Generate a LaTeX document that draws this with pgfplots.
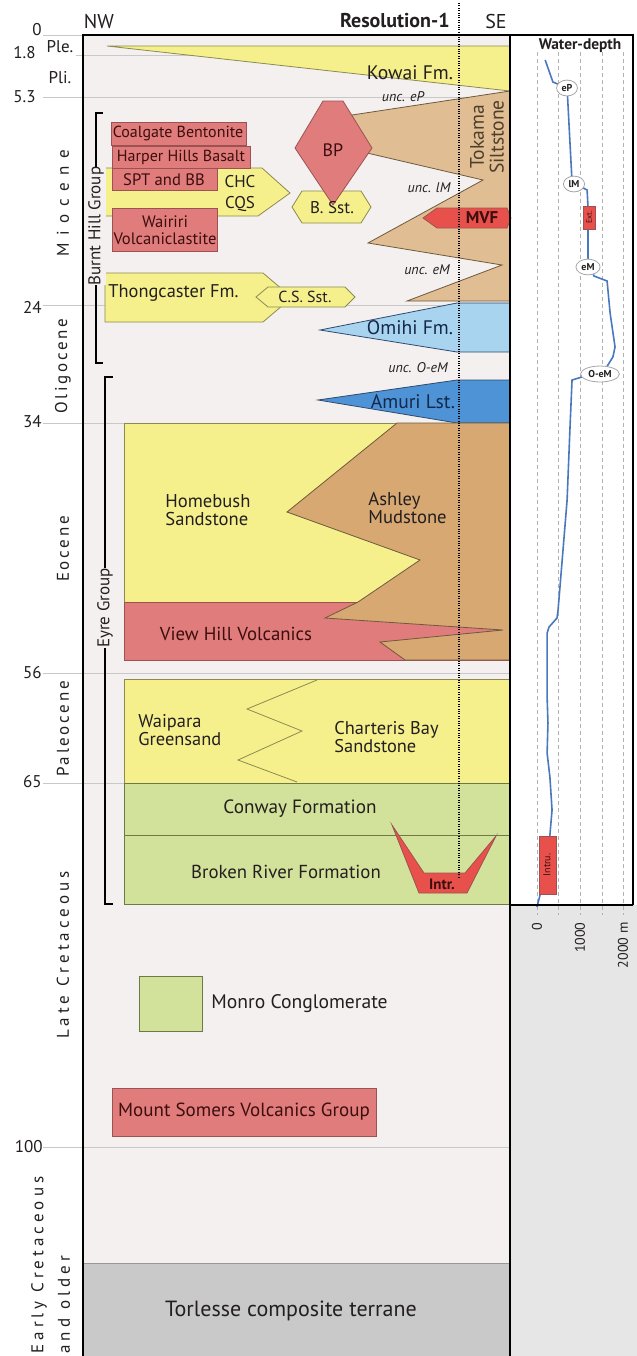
\documentclass[border=0pt]{standalone}
\usepackage{pgfplots}
\usepackage{pgfplotstable}
\pgfplotsset{compat=1.18}
\usetikzlibrary{shapes.geometric}
\usepackage{fontspec}
\setmainfont{PT Sans}
\newfontfamily\epochfont[LetterSpace=16]{PT Sans}
\newfontfamily\epochwide[LetterSpace=45]{PT Sans}
\newfontfamily\epochmid[LetterSpace=24]{PT Sans}

\definecolor{bgpanel}{HTML}{F3F0EF}
\definecolor{ylw}{HTML}{F6F08C}
\definecolor{ylwE}{HTML}{8C8A50}
\definecolor{volc}{HTML}{E07C7C}
\definecolor{volcE}{HTML}{9C5252}
\definecolor{hot}{HTML}{E8514B}
\definecolor{tanA}{HTML}{E0BD93}
\definecolor{tanB}{HTML}{D7A872}
\definecolor{tanE}{HTML}{6E5A3C}
\definecolor{omihi}{HTML}{A8D4F0}
\definecolor{amuri}{HTML}{4D93D5}
\definecolor{blueE}{HTML}{2E4A70}
\definecolor{grn}{HTML}{D3E29A}
\definecolor{grnE}{HTML}{6C7A48}
\definecolor{torl}{HTML}{C9C9C9}
\definecolor{lowgrey}{HTML}{E6E6E6}
\definecolor{curve}{HTML}{4A78BE}
\definecolor{ageline}{HTML}{C8C8C8}
\definecolor{txt}{HTML}{231F20}
\definecolor{volctxt}{HTML}{3D0E0E}
\definecolor{bluetxt}{HTML}{14284B}

\newcommand{\fsz}[1]{\fontsize{#1}{#1}\selectfont}

% water depth (m) against row position down the column
\pgfplotstableread{
depth row
190 60
370 82
700 88
815 182
1165 190
1185 206
1185 229
1185 258
1325 276
1630 281
1700 313
1815 347
1765 357
1605 368
1465 374
1045 377
815 380
765 430
700 500
605 550
490 610
465 618
280 627
235 633
235 697
255 723
235 753
300 777
350 810
300 835
255 865
70 895
0 907
}\depthcurve

\begin{document}
\begin{tikzpicture}
\begin{axis}[at={(0,0)}, anchor=south west, x=0.5pt, y=0.5pt, scale only axis,
  xmin=0, xmax=637, ymin=0, ymax=1356, y dir=reverse, hide axis, clip=false]

% backgrounds
\addplot[fill=white, draw=none] coordinates {(0,0)(637,0)(637,1356)(0,1356)} -- cycle;
\addplot[fill=bgpanel, draw=none] coordinates {(83,35)(510,35)(510,1356)(83,1356)} -- cycle;
\addplot[fill=white, draw=none] coordinates {(510,35)(633,35)(633,905)(510,905)} -- cycle;
\addplot[fill=lowgrey, draw=none] coordinates {(510,905)(637,905)(637,1356)(510,1356)} -- cycle;

% age lines
\addplot[ageline, line width=0.5pt] coordinates {(43,35)(83,35)};
\addplot[ageline, line width=0.5pt] coordinates {(76,55)(510,55)};
\addplot[ageline, line width=0.5pt] coordinates {(43,97)(510,97)};
\addplot[ageline, line width=0.5pt] coordinates {(43,305)(510,305)};
\addplot[ageline, line width=0.5pt] coordinates {(43,423)(510,423)};
\addplot[ageline, line width=0.5pt] coordinates {(43,673)(510,673)};
\addplot[ageline, line width=0.5pt] coordinates {(43,783)(510,783)};
\addplot[ageline, line width=0.5pt] coordinates {(43,1147)(510,1147)};

% Torlesse basement
\addplot[fill=torl, draw=gray!80, line width=0.5pt] coordinates {(83,1263)(510,1263)(510,1360)(83,1360)} -- cycle;

% water-depth grid
\addplot[gray!60, line width=0.4pt, dash pattern=on 2pt off 1.5pt] coordinates {(537,52)(537,915)};
\addplot[gray!60, line width=0.4pt, dash pattern=on 2pt off 1.5pt] coordinates {(558,52)(558,915)};
\addplot[gray!60, line width=0.4pt, dash pattern=on 2pt off 1.5pt] coordinates {(580,52)(580,915)};
\addplot[gray!60, line width=0.4pt, dash pattern=on 2pt off 1.5pt] coordinates {(602,52)(602,915)};
\addplot[gray!60, line width=0.4pt, dash pattern=on 2pt off 1.5pt] coordinates {(623,52)(623,915)};

% Kowai Fm.
\addplot[fill=ylw, draw=ylwE, line width=0.4pt] coordinates {(107,46)(510,46)(510,91)} -- cycle;
% Tokama Siltstone
\addplot[fill=tanA, draw=tanE, line width=0.4pt] coordinates {(510,91)(352,115)(333,150)(367,153)(483,180)(368,243)(502,265)(407,301)(510,301)} -- cycle;
% B. Sst.
\addplot[fill=ylw, draw=ylwE, line width=0.4pt] coordinates {(292,207)(302,191)(361,191)(371,207)(361,223)(302,223)} -- cycle;
% BP
\addplot[fill=volc, draw=volcE, line width=0.4pt] coordinates {(323,101)(343,101)(372,148)(333,205)(295,148)} -- cycle;
% CHC / CQS
\addplot[fill=ylw, draw=ylwE, line width=0.4pt] coordinates {(104,168)(262,168)(290,193)(258,216)(104,216)} -- cycle;
% Burnt Hill volcanics
\addplot[fill=volc, draw=volcE, line width=0.4pt] coordinates {(111,122)(246,122)(246,145)(111,145)} -- cycle;
\addplot[fill=volc, draw=volcE, line width=0.4pt] coordinates {(112,146)(250,146)(250,168)(112,168)} -- cycle;
\addplot[fill=volc, draw=volcE, line width=0.4pt] coordinates {(112,168)(217,168)(217,190)(112,190)} -- cycle;
\addplot[fill=volc, draw=volcE, line width=0.4pt] coordinates {(112,208)(217,208)(217,251)(112,251)} -- cycle;
% MVF
\addplot[fill=hot, draw=volcE, line width=0.4pt] coordinates {(423,218)(437,208)(507,208)(511,218)(507,228)(437,228)} -- cycle;
% Thongcaster Fm.
\addplot[fill=ylw, draw=ylwE, line width=0.4pt] coordinates {(105,273)(263,273)(283,290)(283,305)(263,322)(105,322)} -- cycle;
% C.S. Sst.
\addplot[fill=ylw, draw=ylwE, line width=0.4pt] coordinates {(256,297)(268,287)(345,287)(355,297)(345,307)(268,307)} -- cycle;
% Omihi Fm.
\addplot[fill=omihi, draw=blueE, line width=0.4pt] coordinates {(320,330)(457,303)(510,303)(510,352)(457,352)} -- cycle;
% Amuri Lst.
\addplot[fill=amuri, draw=blueE, line width=0.4pt] coordinates {(318,400)(457,380)(510,380)(510,423)(457,423)} -- cycle;

% Eocene
\addplot[fill=ylw, draw=ylwE, line width=0.4pt] coordinates {(124,423)(510,423)(510,602)(124,602)} -- cycle;
\addplot[fill=volc, draw=volcE, line width=0.4pt] coordinates {(124,602)(510,602)(510,660)(124,660)} -- cycle;
\addplot[fill=tanB, draw=tanE, line width=0.4pt] coordinates {(397,423)(510,423)(510,660)(405,660)(380,642)(503,630)(325,618)(358,602)(420,560)(287,512)} -- cycle;

% Paleocene
\addplot[fill=ylw, draw=ylwE, line width=0.4pt] coordinates {(124,679)(510,679)(510,783)(124,783)} -- cycle;
\addplot[ylwE, line width=0.4pt] coordinates {(317,680)(247,709)(302,731)(238,760)(297,782)};
% Conway and Broken River
\addplot[fill=grn, draw=grnE, line width=0.4pt] coordinates {(124,783)(510,783)(510,835)(124,835)} -- cycle;
\addplot[fill=grn, draw=grnE, line width=0.4pt] coordinates {(124,835)(510,835)(510,904)(124,904)} -- cycle;
% intrusion
\addplot[fill=hot, draw=volcE, line width=0.4pt] coordinates {(392,825)(419,893)(467,893)(496,836)(465,873)(424,873)} -- cycle;

% Monro and Mount Somers
\addplot[fill=grn, draw=grnE, line width=0.4pt] coordinates {(139,976)(202,976)(202,1031)(139,1031)} -- cycle;
\addplot[fill=volc, draw=volcE, line width=0.4pt] coordinates {(112,1088)(376,1088)(376,1136)(112,1136)} -- cycle;

% group brackets
\addplot[black, line width=0.6pt] coordinates {(103,113)(96,113)(96,363)(103,363)};
\addplot[black, line width=0.6pt] coordinates {(113,377)(105,377)(105,904)(113,904)};

% well
\addplot[black, line width=1pt, dash pattern=on 0.5pt off 0.7pt] coordinates {(459,3)(459,877)};

% water-depth curve
\addplot[curve, line width=0.8pt] table[x expr=537+0.043*\thisrow{depth}, y=row] {\depthcurve};
\addplot[fill=hot, draw=volcE, line width=0.3pt] coordinates {(583,206)(595,206)(595,229)(583,229)} -- cycle;
\addplot[fill=hot, draw=volcE, line width=0.3pt] coordinates {(539,836)(556,836)(556,894)(539,894)} -- cycle;

% frame
\addplot[black, line width=1.3pt] coordinates {(83,1356)(83,35)(633,35)(633,905)};
\addplot[black, line width=1.3pt] coordinates {(510,35)(510,1356)};
\addplot[black, line width=1.3pt] coordinates {(510,905)(633,905)};

% ---------- text ----------
\begin{scope}[every node/.style={text=txt, inner sep=0pt}]
\node[font=\fsz{10}] at (99,21) {NW};
\node[font=\fsz{10}\bfseries, anchor=east] at (450,21) {Resolution-1};
\node[font=\fsz{10}] at (496,21) {SE};
\node[font=\fsz{7.7}\bfseries] at (580,46) {Water-depth};

% ages
\node[font=\fsz{8.5}, anchor=east] at (42,30) {0};
\node[font=\fsz{8.5}, anchor=east] at (36,53) {1.8};
\node[font=\fsz{8.5}, anchor=east] at (36,97) {5.3};
\node[font=\fsz{8.5}, anchor=east] at (42,307) {24};
\node[font=\fsz{8.5}, anchor=east] at (42,422) {34};
\node[font=\fsz{8.5}, anchor=east] at (42,673) {56};
\node[font=\fsz{8.5}, anchor=east] at (42,782) {65};
\node[font=\fsz{8.5}, anchor=east] at (43,1147) {100};

% epochs
\node[font=\fsz{8.5}] at (60,47) {Ple.};
\node[font=\fsz{8.5}] at (60,78) {Pli.};
\node[font=\fsz{8.5}\epochwide, rotate=90] at (63,203) {Miocene};
\node[font=\fsz{8.5}\epochfont, rotate=90] at (63,366) {Oligocene};
\node[font=\fsz{8.5}\epochfont, rotate=90] at (63,549) {Eocene};
\node[font=\fsz{8.5}\epochfont, rotate=90] at (63,729) {Paleocene};
\node[font=\fsz{8.5}\epochmid, rotate=90] at (63,955) {Late Cretaceous};
\node[font=\fsz{8.5}\epochmid, rotate=90, anchor=west] at (39,1354) {Early Cretaceous};
\node[font=\fsz{8.5}\epochmid, rotate=90, anchor=west] at (64,1354) {and older};

% groups
\node[font=\fsz{8.5}, rotate=90, fill=bgpanel, inner ysep=1pt] at (96,226) {Burnt Hill Group};
\node[font=\fsz{8.5}, rotate=90, fill=bgpanel, inner ysep=1pt] at (105,608) {Eyre Group};

% formations
\node[font=\fsz{9.8}] at (410,73) {Kowai Fm.};
\node[font=\fsz{9.8}, rotate=90, align=center, text=tanE!70!black] at (487,137) {Tokama\\Siltstone};
\node[font=\fsz{7}\itshape] at (403,97) {unc. eP};
\node[font=\fsz{7}\itshape] at (429,188) {unc. lM};
\node[font=\fsz{7}\itshape] at (427,270) {unc. eM};
\node[font=\fsz{7}\itshape] at (418,368) {unc. O-eM};
\node[font=\fsz{9}, text=volctxt] at (333,150) {BP};
\node[font=\fsz{8.5}] at (332,208) {B. Sst.};
\node[font=\fsz{8.5}\bfseries, text=volctxt] at (482,218) {MVF};
\node[font=\fsz{8}, text=volctxt] at (178,133) {Coalgate Bentonite};
\node[font=\fsz{8}, text=volctxt] at (181,157) {Harper Hills Basalt};
\node[font=\fsz{8.3}, text=volctxt] at (164,180) {SPT and BB};
\node[font=\fsz{8.3}, text=volctxt, align=center] at (165,230) {Wairiri\\Volcaniclastite};
\node[font=\fsz{8.5}] at (240,182) {CHC};
\node[font=\fsz{8.5}] at (240,204) {CQS};
\node[font=\fsz{9.2}, anchor=west] at (108,293) {Thongcaster Fm.};
\node[font=\fsz{8}] at (305,297) {C.S. Sst.};
\node[font=\fsz{9.8}, text=bluetxt] at (410,328) {Omihi Fm.};
\node[font=\fsz{9.8}, text=bluetxt] at (413,402) {Amuri Lst.};
\node[font=\fsz{9.3}, align=left, anchor=west] at (165,510) {Homebush\\Sandstone};
\node[font=\fsz{9.3}, align=left, anchor=west] at (368,508) {Ashley\\Mudstone};
\node[font=\fsz{9.4}, text=volctxt] at (236,634) {View Hill Volcanics};
\node[font=\fsz{9.2}, align=left, anchor=west] at (138,730) {Waipara\\Greensand};
\node[font=\fsz{9.2}, align=left, anchor=west] at (334,737) {Charteris Bay\\Sandstone};
\node[font=\fsz{9.6}] at (300,809) {Conway Formation};
\node[font=\fsz{9.4}] at (286,872) {Broken River Formation};
\node[font=\fsz{7.5}\bfseries, text=volctxt] at (442,884) {Intr.};
\node[font=\fsz{9.8}, anchor=west] at (211,1004) {Monro Conglomerate};
\node[font=\fsz{9.5}, text=volctxt] at (244,1112) {Mount Somers Volcanics Group};
\node[font=\fsz{11}] at (291,1311) {Torlesse composite terrane};

% water-depth panel
\node[font=\fsz{5}\bfseries, ellipse, draw=gray!70, fill=white, inner sep=1pt] at (567,88) {eP};
\node[font=\fsz{5}\bfseries, ellipse, draw=gray!70, fill=white, inner sep=1pt] at (574,184) {lM};
\node[font=\fsz{5}\bfseries, ellipse, draw=gray!70, fill=white, inner sep=1pt] at (588,267) {eM};
\node[font=\fsz{5}\bfseries, ellipse, draw=gray!70, fill=white, inner sep=1pt] at (600,374) {O-eM};
\node[font=\fsz{4}, rotate=90, text=volctxt] at (589,217) {Ext.};
\node[font=\fsz{5}, rotate=90, text=volctxt] at (547,865) {Intru.};
\node[font=\fsz{7}, rotate=90, anchor=east] at (537,922) {0};
\node[font=\fsz{7}, rotate=90, anchor=east] at (580,922) {1000};
\node[font=\fsz{7}, rotate=90, anchor=east] at (623,922) {2000 m};
\end{scope}
\end{axis}
\pgfresetboundingbox
\useasboundingbox (0,0) rectangle (318.5pt,678pt);
\end{tikzpicture}
\end{document}
